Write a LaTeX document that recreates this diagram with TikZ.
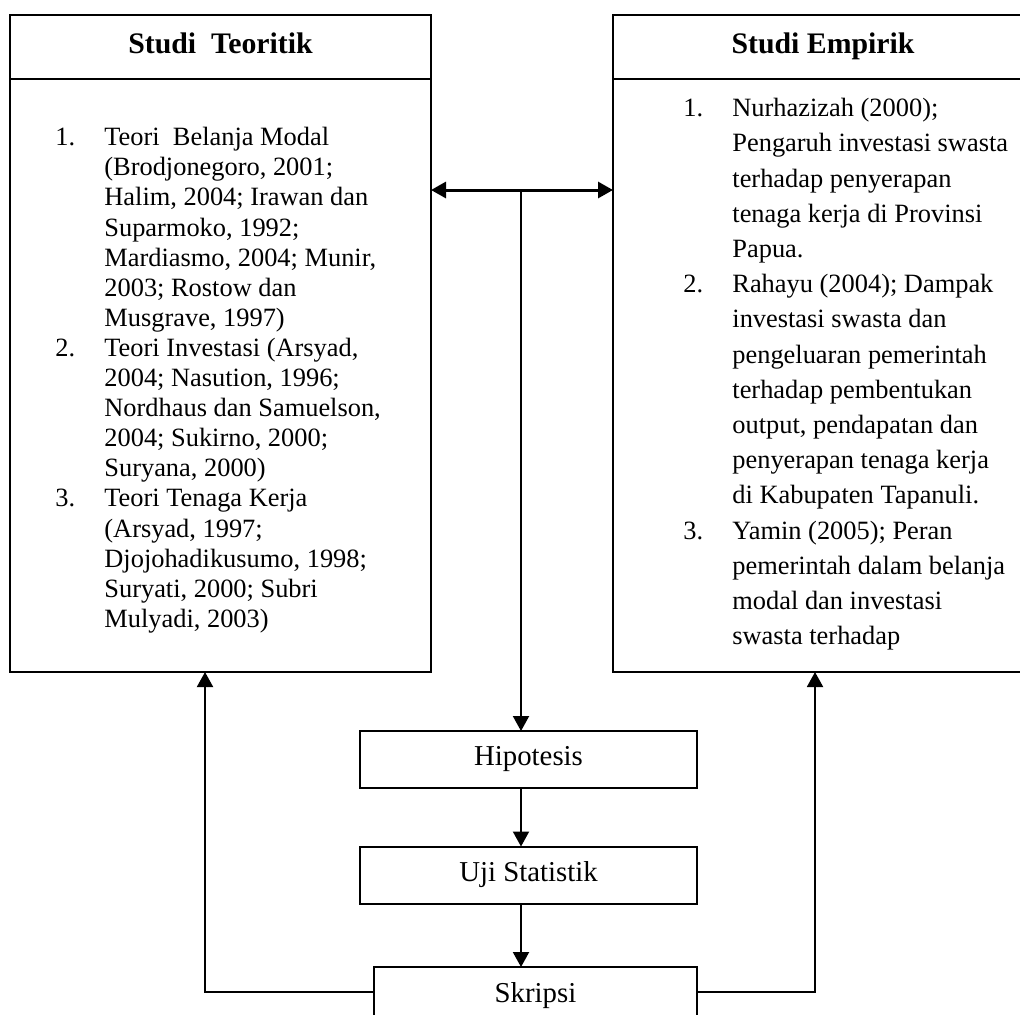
\documentclass[tikz,border=0pt]{standalone}
\usepackage{fontspec}
\setmainfont{Liberation Serif}
\usepackage{tikz}
\usetikzlibrary{arrows.meta,positioning,calc}

\tikzset{
  kotak/.style={draw, line width=1pt, inner sep=0pt, outer sep=0pt},
  judul/.style={kotak, anchor=north west, minimum height=32pt, text height=9pt, text depth=3pt, font=\fontsize{14.9}{17}\selectfont\bfseries},
  isi/.style={align=left, anchor=north west, inner sep=0pt},
  tahap/.style={kotak, minimum height=28.5pt, font=\fontsize{14.4}{16}\selectfont},
  panah/.style={line width=1pt, -{Triangle[length=7.5pt,width=8pt]}},
}
\newcommand{\butir}[2]{\makebox[24.5pt][l]{#1}#2}
\newcommand{\lanjut}[1]{\hspace*{24.5pt}#1}

\begin{document}
\begin{tikzpicture}[x=0.5pt,y=-0.5pt]
\useasboundingbox (0,0) rectangle (1020,1014);

% kotak kiri
\node[judul, minimum width=210.5pt] (teorihead) at (10,15) {Studi\ \ Teoritik};
\node[kotak, anchor=north west, minimum width=210.5pt, minimum height=296.5pt] (teoribody) at (teorihead.south west) {};
\node[isi, font=\fontsize{13.2}{15.05}\selectfont] (teoriisi) at (55,127) {%
\butir{1.}{Teori\ \ Belanja Modal}\\
\lanjut{(Brodjonegoro, 2001;}\\
\lanjut{Halim, 2004; Irawan dan}\\
\lanjut{Suparmoko, 1992;}\\
\lanjut{Mardiasmo, 2004; Munir,}\\
\lanjut{2003; Rostow dan}\\
\lanjut{Musgrave, 1997)}\\
\butir{2.}{Teori Investasi (Arsyad,}\\
\lanjut{2004; Nasution, 1996;}\\
\lanjut{Nordhaus dan Samuelson,}\\
\lanjut{2004; Sukirno, 2000;}\\
\lanjut{Suryana, 2000)}\\
\butir{3.}{Teori Tenaga Kerja}\\
\lanjut{(Arsyad, 1997;}\\
\lanjut{Djojohadikusumo, 1998;}\\
\lanjut{Suryati, 2000; Subri}\\
\lanjut{Mulyadi, 2003)}};

% kotak kanan
\node[judul, minimum width=210pt] (empirikhead) at (613,15) {Studi Empirik};
\node[kotak, anchor=north west, minimum width=210pt, minimum height=296.5pt] (empirikbody) at (empirikhead.south west) {};
\node[isi, font=\fontsize{13.2}{17.6}\selectfont] (empirikisi) at (683,98) {%
\butir{1.}{Nurhazizah (2000);}\\
\lanjut{Pengaruh investasi swasta}\\
\lanjut{terhadap penyerapan}\\
\lanjut{tenaga kerja di Provinsi}\\
\lanjut{Papua.}\\
\butir{2.}{Rahayu (2004); Dampak}\\
\lanjut{investasi swasta dan}\\
\lanjut{pengeluaran pemerintah}\\
\lanjut{terhadap pembentukan}\\
\lanjut{output, pendapatan dan}\\
\lanjut{penyerapan tenaga kerja}\\
\lanjut{di Kabupaten Tapanuli.}\\
\butir{3.}{Yamin (2005); Peran}\\
\lanjut{pemerintah dalam belanja}\\
\lanjut{modal dan investasi}\\
\lanjut{swasta terhadap}};

% alur tengah
\node[tahap, minimum width=168.5pt] (hipotesis) at (528.5,759.5) {Hipotesis};
\node[tahap, minimum width=168.5pt] (uji) at (528.5,875) {Uji Statistik};
\node[tahap, minimum width=161.5pt] (skripsi) at (535.5,995.5) {Skripsi};

\coordinate (cabang) at (521,190);
\coordinate (balikkiri) at (205,992);
\coordinate (balikkanan) at (815,992);

\draw[line width=1.5pt, {Triangle[length=7.5pt,width=8pt]}-{Triangle[length=7.5pt,width=8pt]}] (cabang -| teoribody.east) -- (cabang -| empirikbody.west);
\draw[panah] (cabang) -- (cabang |- hipotesis.north);
\draw[panah] (cabang |- hipotesis.south) -- (cabang |- uji.north);
\draw[panah] (cabang |- uji.south) -- (cabang |- skripsi.north);
\draw[panah] (skripsi.west |- balikkiri) -- (balikkiri) -- (balikkiri |- teoribody.south);
\draw[panah] (skripsi.east |- balikkanan) -- (balikkanan) -- (balikkanan |- empirikbody.south);
\end{tikzpicture}
\end{document}
